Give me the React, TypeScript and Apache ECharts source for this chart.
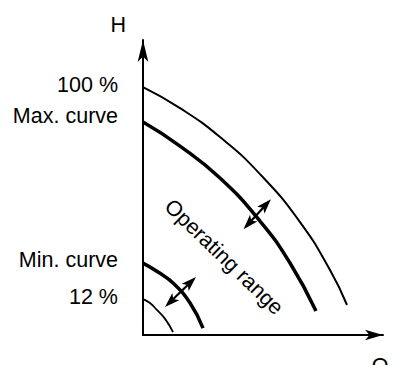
import React, { useEffect, useRef } from "react";
import * as echarts from "echarts";

const FONT = '"Liberation Sans", Arial, Helvetica, sans-serif';

// Flow Q (% of axis span) and head H (% of the 100 % curve head)
const curve100Q = [0, 15.42, 32.08, 48.75, 65.42, 77.92, 85.0];
const curve100H = [100, 91.53, 79.84, 64.92, 45.56, 26.21, 12.1];
const maxCurveQ = [0, 15.42, 32.08, 48.75, 61.25, 72.08];
const maxCurveH = [85.89, 76.21, 63.31, 45.97, 29.03, 9.68];
const minCurveQ = [0, 6.25, 12.5, 19.6, 25.0];
const minCurveH = [29.0, 25.4, 21.0, 12.9, 2.8];
const curve12Q = [0, 2.9, 5.8, 9.2, 12.5];
const curve12H = [14.5, 12.9, 10.1, 6.5, 1.2];

// Double-headed arrows: tip A (Q, H) and tip B (Q, H)
const arrowFromQ = [41.9, 9.17];
const arrowFromH = [42.7, 11.29];
const arrowToQ = [53.3, 22.08];
const arrowToH = [54.8, 23.39];

// Y axis labels
const yLabelValues = [101, 88.3, 30.4, 15.5];
const yLabelTexts = ["100 %", "Max. curve", "Min. curve", "12 %"];

const xName = "Q";
const yName = "H";
const rangeText = "Operating range";

const zip = (q: number[], h: number[]) => q.map((v, i) => [v, h[i]]);

export default function App() {
  const ref = useRef<HTMLDivElement>(null);
  useEffect(() => {
    document.body.style.margin = "0";
    const chart = echarts.init(ref.current!, undefined, { renderer: "svg" });
    const curve = (data: number[][], width: number) => ({
      type: "line",
      data,
      smooth: 0.5,
      showSymbol: false,
      symbol: "none",
      silent: true,
      lineStyle: { color: "#000", width },
    });
    const arrowData = arrowFromQ.map((q, i) => [q, arrowFromH[i], arrowToQ[i], arrowToH[i]]);
    chart.setOption({
      animation: false,
      backgroundColor: "#fff",
      grid: {
        left: 143,
        right: 10,
        top: 40,
        bottom: 30,
        containLabel: false,
        outerBoundsMode: "none",
      },
      xAxis: {
        type: "value",
        min: 0,
        max: 100,
        name: xName,
        nameLocation: "end",
        nameGap: -3,
        nameTextStyle: {
          fontFamily: FONT,
          fontSize: 21.5,
          color: "#000",
          align: "center",
          verticalAlign: "top",
          padding: [20, 0, 0, 0],
        },
        axisLine: {
          show: true,
          symbol: ["none", "arrow"],
          symbolSize: [8, 18],
          lineStyle: { color: "#000", width: 2 },
        },
        axisTick: { show: false },
        axisLabel: { show: false },
        splitLine: { show: false },
      },
      yAxis: {
        type: "value",
        min: 0,
        max: 119,
        name: yName,
        nameLocation: "end",
        nameGap: 15,
        nameTextStyle: {
          fontFamily: FONT,
          fontSize: 21.5,
          color: "#000",
          align: "right",
          verticalAlign: "middle",
          padding: [0, 17, 0, 0],
        },
        axisLine: {
          show: true,
          symbol: ["none", "arrow"],
          symbolSize: [8, 22],
          lineStyle: { color: "#000", width: 2 },
        },
        axisTick: { show: false },
        splitLine: { show: false },
        axisLabel: {
          show: true,
          customValues: yLabelValues,
          margin: 25,
          fontFamily: FONT,
          fontSize: 21.5,
          color: "#000",
          formatter: (v: number) => {
            const i = yLabelValues.findIndex((x) => Math.abs(x - v) < 1e-6);
            return i >= 0 ? yLabelTexts[i] : "";
          },
        },
      },
      series: [
        curve(zip(curve100Q, curve100H), 2),
        curve(zip(maxCurveQ, maxCurveH), 3.5),
        curve(zip(minCurveQ, minCurveH), 3.5),
        curve(zip(curve12Q, curve12H), 1.8),
        {
          type: "custom",
          silent: true,
          data: arrowData,
          encode: { x: [0, 2], y: [1, 3] },
          renderItem: (params: any, api: any) => {
            const a = api.coord([api.value(0), api.value(1)]);
            const b = api.coord([api.value(2), api.value(3)]);
            const dx = b[0] - a[0];
            const dy = b[1] - a[1];
            const len = Math.hypot(dx, dy);
            const ux = dx / len;
            const uy = dy / len;
            const px = -uy;
            const py = ux;
            const head = 15;
            const hw = 5;
            const notch = 3.5;
            const headPts = (tx: number, ty: number, dirx: number, diry: number) => [
              [tx, ty],
              [tx - dirx * head + px * hw, ty - diry * head + py * hw],
              [tx - dirx * (head - notch), ty - diry * (head - notch)],
              [tx - dirx * head - px * hw, ty - diry * head - py * hw],
            ];
            return {
              type: "group",
              children: [
                {
                  type: "line",
                  shape: {
                    x1: a[0] + ux * (head - notch),
                    y1: a[1] + uy * (head - notch),
                    x2: b[0] - ux * (head - notch),
                    y2: b[1] - uy * (head - notch),
                  },
                  style: { stroke: "#000", lineWidth: 2.2 },
                },
                {
                  type: "polygon",
                  shape: { points: headPts(b[0], b[1], ux, uy) },
                  style: { fill: "#000" },
                },
                {
                  type: "polygon",
                  shape: { points: headPts(a[0], a[1], -ux, -uy) },
                  style: { fill: "#000" },
                },
              ],
            };
          },
        },
      ],
      graphic: [
        {
          type: "text",
          x: 224,
          y: 257,
          rotation: (-44 * Math.PI) / 180,
          silent: true,
          style: {
            text: rangeText,
            font: `21.5px ${FONT}`,
            fill: "#000",
            align: "center",
            verticalAlign: "middle",
            textAlign: "center",
            textVerticalAlign: "middle",
          },
        },
      ],
    });
    return () => chart.dispose();
  }, []);
  return (
    <div
      ref={ref}
      style={{ position: "fixed", left: 0, top: 0, width: 393, height: 365, background: "#fff" }}
    />
  );
}
